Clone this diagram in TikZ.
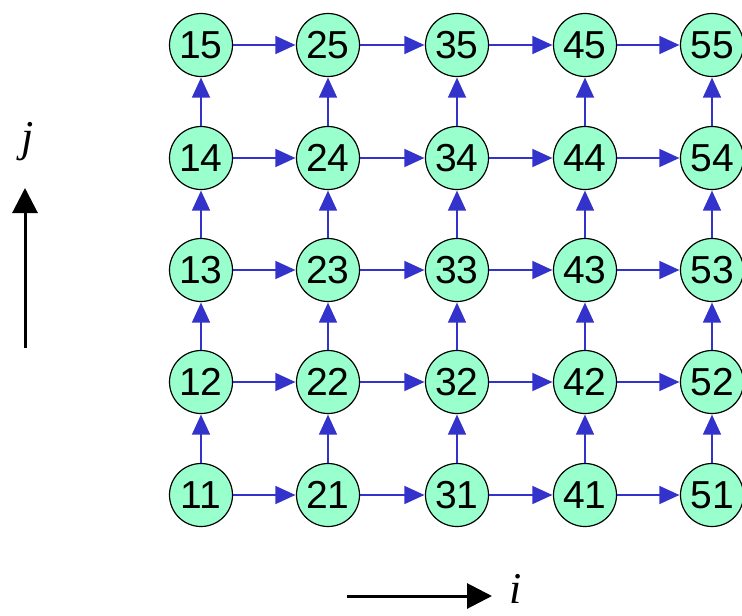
\documentclass[tikz,border=0pt]{standalone}
\usepackage{fontspec}
\setmainfont{Liberation Sans}
\newfontfamily\serifit{Liberation Serif}
\usetikzlibrary{arrows.meta}
\definecolor{nodegreen}{HTML}{99FFCC}
\definecolor{edgeblue}{HTML}{3333CC}
\begin{document}
\begin{tikzpicture}[x=1pt,y=-1pt,
  cell/.style={circle,draw=black,line width=1.2pt,fill=nodegreen,minimum size=63pt,inner sep=0pt,font=\fontsize{39}{39}\selectfont},
  link/.style={draw=edgeblue,line width=1.5pt,-{Triangle[length=20pt,width=18pt]},shorten >=0.5pt},
  axis/.style={draw=black,line width=3pt,-{Triangle[length=25pt,width=25pt]}},
  axlabel/.style={font=\serifit\itshape\fontsize{44}{44}\selectfont,inner sep=0pt}]
\useasboundingbox (0,0) rectangle (742,616);
\foreach \i/\x in {1/201,2/328,3/457,4/585,5/712}{
  \foreach \j/\y in {1/495,2/382,3/270,4/158,5/45}{
    \node[cell] (n\i\j) at (\x,\y) {\i\j};
  }
}
\foreach \i in {1,...,5}{
  \foreach \j/\k in {1/2,2/3,3/4,4/5}{
    \draw[link] (n\i\j) -- (n\i\k);
  }
}
\foreach \j in {1,...,5}{
  \foreach \i/\k in {1/2,2/3,3/4,4/5}{
    \draw[link] (n\i\j) -- (n\k\j);
  }
}
\coordinate (jfrom) at (25,348);
\coordinate (jto) at (25,188);
\draw[axis] (jfrom) -- (jto);
\node[axlabel] (jlab) at (28,142) {j};
\coordinate (ifrom) at (347,596);
\coordinate (ito) at (492,596);
\draw[axis] (ifrom) -- (ito);
\node[axlabel] (ilab) at (516,589) {i};
\end{tikzpicture}
\end{document}
